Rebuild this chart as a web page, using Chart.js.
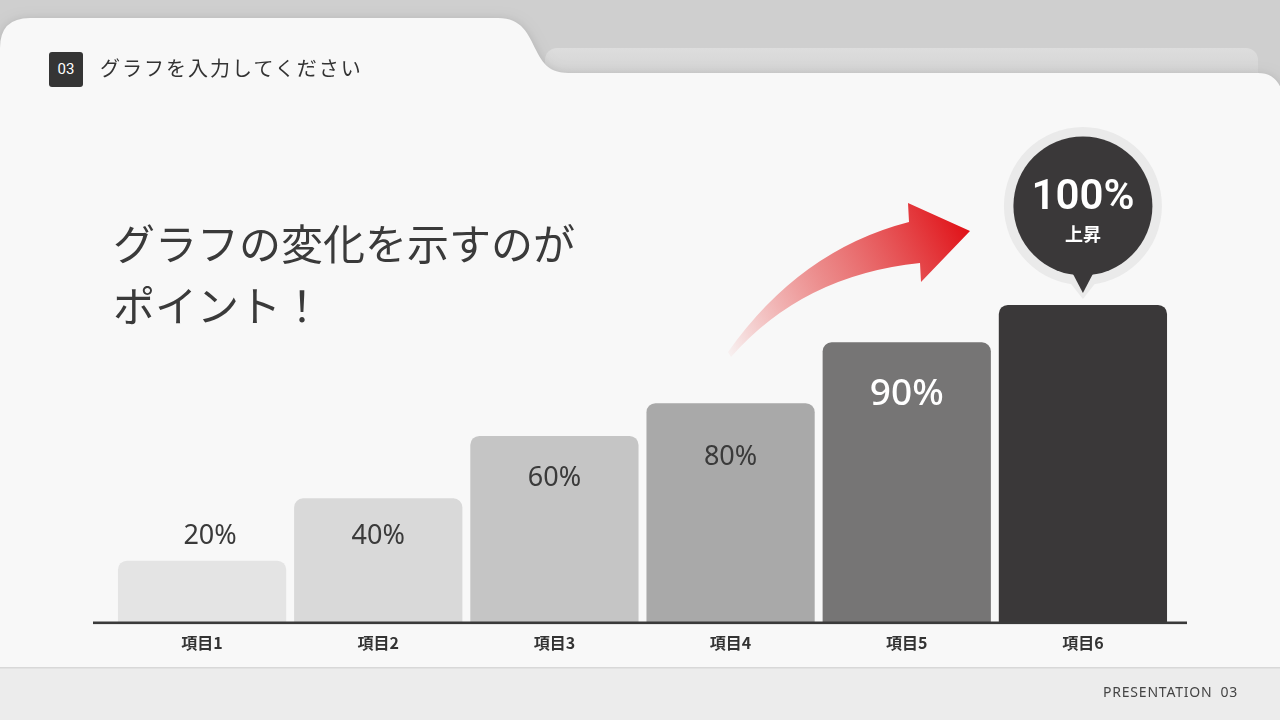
<!DOCTYPE html>
<html><head><meta charset="utf-8">
<script src="https://cdn.jsdelivr.net/npm/chart.js@4.4.0/dist/chart.umd.min.js"></script>
<style>
html,body{margin:0;padding:0;width:1280px;height:720px;overflow:hidden;background:#cfcfcf;font-family:"Noto Sans CJK JP","Noto Sans",sans-serif;}
#wrap{position:relative;width:1280px;height:720px;}
#c{position:absolute;left:0;top:0;z-index:1;}
.t{position:absolute;z-index:2;white-space:nowrap;}
#badge{left:49px;top:52px;width:34px;height:35px;background:#353535;border-radius:3px;color:#fff;font:15px Roboto,"Noto Sans",sans-serif;line-height:35px;text-align:center;}
#title{left:100px;top:55px;font-size:20px;line-height:26px;letter-spacing:2px;color:#333;}
#head{left:113px;top:211px;font-size:42px;line-height:62px;color:#3a3a3a;}
#foot{left:1103px;top:683px;font:14px "Noto Sans",sans-serif;letter-spacing:0.8px;line-height:18px;color:#444;}
#foot span{margin-left:8px;}
</style></head><body>
<div id="wrap">
<canvas id="c" width="1280" height="720"></canvas>
<div class="t" id="badge">03</div>
<div class="t" id="title">グラフを入力してください</div>
<div class="t" id="head">グラフの変化を示すのが<br>ポイント！</div>
<div class="t" id="foot">PRESENTATION<span>03</span></div>
</div>
<script>
// ---- data ----
const categories = ['項目1','項目2','項目3','項目4','項目5','項目6'];
const values = [20, 40, 60, 70.5, 90, 102];
const valueLabels = ['20%','40%','60%','80%','90%','100%'];
const highlightNote = '上昇';

// ---- style ----
const barColors = ['#e4e4e4','#d9d9d9','#c5c5c5','#a9a9a9','#767575','#3a3839'];
const labelOffsets = [-24, 38, 42.5, 54, 52];
const labelShiftX = [8, 0, 0, 0, 0];
const labelColors = ['#3a3a3a','#3a3a3a','#3a3a3a','#3a3a3a','#ffffff'];
const labelFonts = ['27px "Noto Sans"','27px "Noto Sans"','27px "Noto Sans"','27px "Noto Sans"','500 37px "Noto Sans"'];

const bgPlugin = {
  id:'bg',
  beforeDraw(chart){
    const ctx = chart.ctx;
    ctx.save();
    ctx.fillStyle = '#cfcfcf';
    ctx.fillRect(0,0,1280,720);
    const g = ctx.createLinearGradient(0,48,0,80);
    g.addColorStop(0,'#dddddd'); g.addColorStop(1,'#d2d2d2');
    ctx.fillStyle = g;
    ctx.beginPath();
    ctx.roundRect(545,48,713,60,12);
    ctx.fill();
    ctx.shadowColor = 'rgba(0,0,0,0.16)';
    ctx.shadowBlur = 12;
    ctx.shadowOffsetY = 2;
    ctx.fillStyle = '#f8f8f8';
    ctx.beginPath();
    ctx.moveTo(0,668);
    ctx.lineTo(0,48);
    ctx.quadraticCurveTo(0,18,30,18);
    ctx.lineTo(498,18);
    ctx.bezierCurveTo(522,18,528,34,536,50);
    ctx.bezierCurveTo(545,68,552,73,572,73);
    ctx.lineTo(1258,73);
    ctx.quadraticCurveTo(1280,73,1284,100);
    ctx.lineTo(1284,668);
    ctx.closePath();
    ctx.fill();
    ctx.shadowColor = 'transparent';
    ctx.fillStyle = '#ececec';
    ctx.fillRect(0,668,1280,52);
    ctx.fillStyle = '#d8d8d8';
    ctx.fillRect(0,667,1280,1.5);
    ctx.restore();
  }
};

const decoPlugin = {
  id:'deco',
  afterDatasetsDraw(chart){
    const ctx = chart.ctx;
    const meta = chart.getDatasetMeta(0);
    const y0 = chart.scales.y.getPixelForValue(0);
    ctx.save();
    ctx.fillStyle = '#3a3a3a';
    ctx.fillRect(chart.chartArea.left-21, y0-1.5, chart.chartArea.right-chart.chartArea.left+37, 2.6);
    ctx.textAlign = 'center';
    ctx.textBaseline = 'middle';
    for(let i=0;i<5;i++){
      const b = meta.data[i];
      ctx.font = labelFonts[i];
      ctx.fillStyle = labelColors[i];
      ctx.fillText(valueLabels[i], b.x + labelShiftX[i], b.y + labelOffsets[i]);
    }
    const gr = ctx.createLinearGradient(728,355,969,232);
    gr.addColorStop(0,'rgba(232,60,60,0.03)');
    gr.addColorStop(0.45,'rgba(230,90,90,0.7)');
    gr.addColorStop(1,'rgba(224,18,24,1)');
    ctx.fillStyle = gr;
    ctx.beginPath();
    ctx.moveTo(728,352);
    ctx.quadraticCurveTo(800,250,909,222);
    ctx.lineTo(908,203);
    ctx.lineTo(970,231);
    ctx.lineTo(921,282);
    ctx.lineTo(920,263);
    ctx.quadraticCurveTo(803,275,731,357);
    ctx.closePath();
    ctx.fill();
    const b6 = meta.data[5];
    const cx = b6.x, cy = b6.y - 99;
    ctx.fillStyle = '#eaeaea';
    ctx.beginPath(); ctx.arc(cx,cy,79,0,Math.PI*2); ctx.fill();
    ctx.beginPath();
    ctx.moveTo(cx-18,cy+70); ctx.lineTo(cx,b6.y-6); ctx.lineTo(cx+18,cy+70); ctx.fill();
    ctx.fillStyle = '#3a3839';
    ctx.beginPath(); ctx.arc(cx,cy,69.5,0,Math.PI*2); ctx.fill();
    ctx.beginPath();
    ctx.moveTo(cx-12,cy+64); ctx.lineTo(cx,b6.y-12); ctx.lineTo(cx+12,cy+64); ctx.fill();
    ctx.fillStyle = '#ffffff';
    ctx.font = '600 42px Roboto';
    ctx.fillText(valueLabels[5], cx, cy-7);
    ctx.font = 'bold 18px "Noto Sans CJK JP"';
    ctx.fillText(highlightNote, cx, cy+28);
    ctx.restore();
  }
};

new Chart(document.getElementById('c'), {
  type:'bar',
  data:{
    labels:categories,
    datasets:[{
      data:values,
      backgroundColor:barColors,
      borderWidth:0,
      borderSkipped:false,
      borderRadius:{topLeft:9,topRight:9,bottomLeft:0,bottomRight:0},
      categoryPercentage:1,
      barPercentage:0.955
    }]
  },
  options:{
    responsive:false,
    animation:false,
    devicePixelRatio:1,
    layout:{padding:{left:114,right:109,top:280,bottom:57.8}},
    plugins:{legend:{display:false},tooltip:{enabled:false},title:{display:false}},
    scales:{
      x:{
        grid:{display:false,drawTicks:false},
        border:{display:false},
        ticks:{padding:10,color:'#333',font:{family:'"Noto Sans CJK JP"',size:16,weight:'bold'}}
      },
      y:{display:false,min:0,max:110}
    }
  },
  plugins:[bgPlugin,decoPlugin]
});
</script>
</body></html>
